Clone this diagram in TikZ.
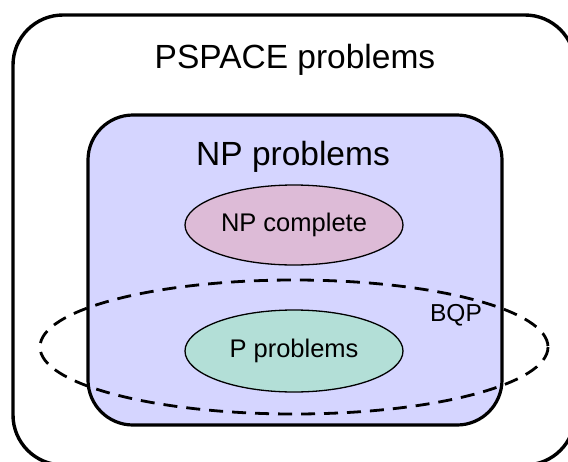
\documentclass[tikz,border=0pt]{standalone}
\usepackage{fontspec}
\setmainfont{Liberation Sans}
\usetikzlibrary{shapes.geometric}
\definecolor{npfill}{HTML}{D5D5FF}
\definecolor{npcfill}{HTML}{DDBBD7}
\definecolor{pfill}{HTML}{B3DFD7}
\tikzset{
  bigtxt/.style={font=\fontsize{33.5}{40}\selectfont, inner sep=0pt},
  ovaltxt/.style={font=\fontsize{25.5}{30}\selectfont},
  oval/.style={ellipse, draw=black, line width=1.3pt, inner sep=0pt},
}
\begin{document}
\begin{tikzpicture}[x=1pt,y=-1pt]
\useasboundingbox (0,0) rectangle (568,461);
\clip (0,0) rectangle (568,461);
\fill[white] (0,0) rectangle (568,461);
% PSPACE box
\draw[line width=3.4pt, rounded corners=50pt] (13,15) rectangle (575,465);
\node[bigtxt] (pspace) at (295,60) {PSPACE problems};
% NP box
\draw[line width=3.2pt, fill=npfill, rounded corners=45pt] (88,115) rectangle (502,425);
\node[bigtxt] (np) at (293,157) {NP problems};
% NP complete
\node[oval, fill=npcfill, minimum width=218pt, minimum height=80pt, ovaltxt] (npc) at (294,225) {NP complete};
% P problems
\node[oval, fill=pfill, minimum width=218pt, minimum height=82pt, ovaltxt] (p) at (294,351) {P problems};
% BQP
\draw[line width=2.8pt, dash pattern=on 14pt off 9pt] (294,347) ellipse [x radius=254, y radius=67];
\node[font=\fontsize{24.5}{30}\selectfont, inner sep=0pt] (bqp) at (456,315) {BQP};
\end{tikzpicture}
\end{document}
